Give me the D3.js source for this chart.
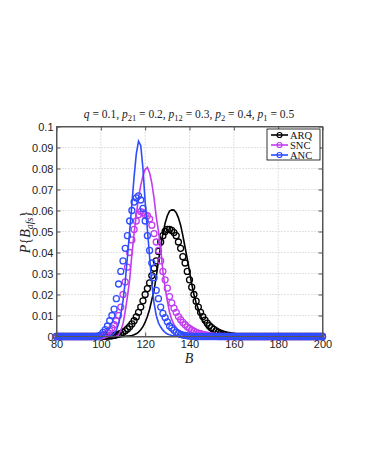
<!DOCTYPE html>
<html>
<head>
<meta charset="utf-8">
<script src="https://cdn.jsdelivr.net/npm/d3@7"></script>
<style>
  body { margin: 0; background: #fff; }
  text { font-family: "Liberation Sans", Arial, sans-serif; }
  .tex { font-family: "Liberation Serif", "DejaVu Serif", serif; }
</style>
</head>
<body>
<svg id="chart" width="366" height="473"></svg>
<script>
// B = 80..200, one value per integer B
var bValues = d3.range(80, 201);

// ARQ: analysis (line) and simulation (circles)
var arqLine = [
  0,0,0,0,0,0,0,0,0,0,
  0,0,0,0,0,0,0,0,0,0,
  0,0,0,0,0,0,0,0,0,0,
  0,0.0001,0.0002,0.0003,0.0005,0.0008,0.0013,0.0021,0.0032,0.0047,
  0.0068,0.0095,0.013,0.0175,0.022,0.0285,0.036,0.043,0.049,0.054,
  0.0575,0.0597,0.0603,0.0602,0.059,0.0565,0.053,0.048,0.0425,0.037,
  0.031,0.025,0.020,0.016,0.013,0.010,0.0075,0.0055,0.004,0.003,
  0.0022,0.0016,0.0011,0.0008,0.0005,0.0003,0.0002,0.0001,0,0,
  0,0,0,0,0,0,0,0,0,0,
  0,0,0,0,0,0,0,0,0,0,
  0,0,0,0,0,0,0,0,0,0,
  0,0,0,0,0,0,0,0,0,0,
  0
];
var arqSim = [
  0,0,0,0,0,0,0,0,0,0,
  0,0,0,0,0,0,0,0,0,0,
  0,0.0001,0.0001,0.0002,0.0002,0.0003,0.0005,0.0008,0.0011,0.0015,
  0.002,0.0027,0.0036,0.0047,0.006,0.0075,0.0093,0.0115,0.014,0.017,
  0.020,0.0228,0.0255,0.029,0.0325,0.036,0.0405,0.045,0.048,0.050,
  0.051,0.051,0.0505,0.0495,0.048,0.045,0.042,0.038,0.035,0.031,
  0.027,0.0235,0.020,0.0168,0.014,0.0115,0.0095,0.0078,0.0064,0.0052,
  0.0042,0.0034,0.0027,0.0021,0.0016,0.0012,0.0009,0.0007,0.0005,0.0003,
  0.0002,0.0001,0,0,0,0,0,0,0,0,
  0,0,0,0,0,0,0,0,0,0,
  0,0,0,0,0,0,0,0,0,0,
  0,0,0,0,0,0,0,0,0,0,
  0
];

// SNC
var sncLine = [
  0,0,0,0,0,0,0,0,0,0,
  0,0,0,0,0,0,0,0,0,0,
  0,0,0,0,0,0,0,0.0001,0.0007,0.003,
  0.006,0.012,0.019,0.027,0.039,0.049,0.058,0.066,0.072,0.0765,
  0.0795,0.0805,0.078,0.073,0.066,0.057,0.050,0.042,0.031,0.023,
  0.017,0.0115,0.008,0.0058,0.0042,0.0031,0.0023,0.0017,0.0012,0.0008,
  0.0005,0.0003,0.0002,0.0001,0,0,0,0,0,0,
  0,0,0,0,0,0,0,0,0,0,
  0,0,0,0,0,0,0,0,0,0,
  0,0,0,0,0,0,0,0,0,0,
  0,0,0,0,0,0,0,0,0,0,
  0,0,0,0,0,0,0,0,0,0,
  0
];
var sncSim = [
  0,0,0,0,0,0,0,0,0,0,
  0,0,0,0,0,0,0,0,0,0,
  0.0002,0.0005,0.001,0.0017,0.0027,0.004,0.0056,0.0075,0.010,0.014,
  0.020,0.026,0.033,0.040,0.046,0.051,0.055,0.058,0.0595,0.059,
  0.058,0.0575,0.056,0.053,0.049,0.045,0.041,0.036,0.031,0.027,
  0.023,0.019,0.016,0.0135,0.0115,0.0095,0.008,0.0067,0.0056,0.0046,
  0.0038,0.0031,0.0025,0.002,0.0016,0.0013,0.001,0.0008,0.0006,0.0004,
  0.0003,0.0002,0.0001,0,0,0,0,0,0,0,
  0,0,0,0,0,0,0,0,0,0,
  0,0,0,0,0,0,0,0,0,0,
  0,0,0,0,0,0,0,0,0,0,
  0,0,0,0,0,0,0,0,0,0,
  0
];

// ANC
var ancLine = [
  0,0,0,0,0,0,0,0,0,0,
  0,0,0,0,0,0,0,0,0,0,
  0,0,0,0,0.0003,0.0007,0.0015,0.003,0.006,0.0105,
  0.017,0.026,0.038,0.050,0.063,0.076,0.087,0.093,0.091,0.080,
  0.064,0.051,0.038,0.025,0.016,0.010,0.0065,0.0045,0.003,0.002,
  0.0012,0.0008,0.0005,0.0003,0.0002,0.0001,0,0,0,0,
  0,0,0,0,0,0,0,0,0,0,
  0,0,0,0,0,0,0,0,0,0,
  0,0,0,0,0,0,0,0,0,0,
  0,0,0,0,0,0,0,0,0,0,
  0,0,0,0,0,0,0,0,0,0,
  0,0,0,0,0,0,0,0,0,0,
  0
];
var ancSim = [
  0,0,0,0,0,0,0,0,0,0,
  0,0,0,0,0,0,0,0,0,0.0003,
  0.0008,0.002,0.0033,0.005,0.0075,0.010,0.013,0.018,0.025,0.031,
  0.036,0.042,0.048,0.055,0.060,0.064,0.066,0.067,0.065,0.061,
  0.055,0.048,0.041,0.035,0.028,0.022,0.018,0.014,0.011,0.009,
  0.007,0.005,0.004,0.003,0.002,0.0015,0.001,0.0007,0.0005,0.0003,
  0.0002,0.0001,0,0,0,0,0,0,0,0,
  0,0,0,0,0,0,0,0,0,0,
  0,0,0,0,0,0,0,0,0,0,
  0,0,0,0,0,0,0,0,0,0,
  0,0,0,0,0,0,0,0,0,0,
  0,0,0,0,0,0,0,0,0,0,
  0
];

var seriesNames = ['ARQ', 'SNC', 'ANC'];
var seriesColors = ['#000000', '#c23cf0', '#2f4cff'];
var xTicks = [80, 100, 120, 140, 160, 180, 200];
var yTicks = [0, 0.01, 0.02, 0.03, 0.04, 0.05, 0.06, 0.07, 0.08, 0.09, 0.1];

var svg = d3.select('#chart');
var plotLeft = 56.5, plotRight = 322.5, plotTop = 126.5, plotBottom = 336.5;

var x = d3.scaleLinear().domain([80, 200]).range([plotLeft, plotRight]);
var y = d3.scaleLinear().domain([0, 0.1]).range([plotBottom, plotTop]);

// grid
svg.append('g').selectAll('line').data(xTicks.slice(1, -1)).join('line')
  .attr('x1', function(d) { return x(d); }).attr('x2', function(d) { return x(d); })
  .attr('y1', plotTop).attr('y2', plotBottom)
  .attr('stroke', '#c4c4c4').attr('stroke-dasharray', '1,2');
svg.append('g').selectAll('line').data(yTicks.slice(1, -1)).join('line')
  .attr('y1', function(d) { return y(d); }).attr('y2', function(d) { return y(d); })
  .attr('x1', plotLeft).attr('x2', plotRight)
  .attr('stroke', '#c4c4c4').attr('stroke-dasharray', '1,2');

// axes, ticks inward
svg.append('g').attr('transform', 'translate(0,' + plotBottom + ')')
  .call(d3.axisBottom(x).tickValues(xTicks).tickSizeInner(-4).tickSizeOuter(0).tickPadding(4));
svg.append('g').attr('transform', 'translate(' + plotLeft + ',0)')
  .call(d3.axisLeft(y).tickValues(yTicks).tickSizeInner(-4).tickSizeOuter(0).tickPadding(3)
    .tickFormat(function(d) { return d === 0 ? '0' : String(+d.toFixed(2)); }));
// mirrored ticks top / right
svg.append('g').attr('transform', 'translate(0,' + plotTop + ')')
  .call(d3.axisTop(x).tickValues(xTicks).tickSizeInner(-4).tickSizeOuter(0).tickFormat(''));
svg.append('g').attr('transform', 'translate(' + plotRight + ',0)')
  .call(d3.axisRight(y).tickValues(yTicks).tickSizeInner(-4).tickSizeOuter(0).tickFormat(''));

svg.selectAll('.domain').attr('stroke', '#555');
svg.selectAll('.tick line').attr('stroke', '#555');
svg.selectAll('.tick text').attr('font-size', 11).attr('fill', '#222')
  .style('font-family', '"Liberation Sans", Arial, sans-serif');

// data
var allSeries = [
  { line: arqLine, sim: arqSim },
  { line: sncLine, sim: sncSim },
  { line: ancLine, sim: ancSim }
];
var line = d3.line().x(function(d) { return x(d.b); }).y(function(d) { return y(d.v); });

allSeries.forEach(function(s, k) {
  var lineData = bValues.map(function(b, i) { return { b: b, v: s.line[i] }; });
  var simData = bValues.map(function(b, i) { return { b: b, v: s.sim[i] }; });
  svg.append('path').datum(lineData)
    .attr('d', line).attr('fill', 'none')
    .attr('stroke', seriesColors[k]).attr('stroke-width', 1.6);
  svg.append('g').selectAll('circle').data(simData).join('circle')
    .attr('cx', function(d) { return x(d.b); })
    .attr('cy', function(d) { return y(d.v); })
    .attr('r', 3)
    .attr('fill', 'none')
    .attr('stroke', seriesColors[k]).attr('stroke-width', 1.3);
});

// frame on top
svg.append('rect').attr('x', plotLeft).attr('y', plotTop)
  .attr('width', plotRight - plotLeft).attr('height', plotBottom - plotTop)
  .attr('fill', 'none').attr('stroke', '#555');

// title
var title = svg.append('text').attr('class', 'tex')
  .attr('x', 189).attr('y', 118).attr('text-anchor', 'middle')
  .attr('font-size', 11.5).attr('fill', '#222');
var parts = [
  ['q', null, ' = 0.1, '], ['p', '21', ' = 0.2, '], ['p', '12', ' = 0.3, '],
  ['p', '2', ' = 0.4, '], ['p', '1', ' = 0.5']
];
parts.forEach(function(p) {
  title.append('tspan').attr('font-style', 'italic').text(p[0]);
  if (p[1]) {
    title.append('tspan').attr('dy', 2.5).attr('font-size', 8.5).text(p[1]);
    title.append('tspan').attr('dy', -2.5).text(p[2]);
  } else {
    title.append('tspan').text(p[2]);
  }
});

// axis labels
svg.append('text').attr('class', 'tex')
  .attr('x', 189).attr('y', 363).attr('text-anchor', 'middle')
  .attr('font-size', 14).attr('font-style', 'italic').attr('fill', '#222').text('B');

var yl = svg.append('text').attr('class', 'tex')
  .attr('transform', 'translate(30,232) rotate(-90)')
  .attr('text-anchor', 'middle').attr('font-size', 14).attr('fill', '#222');
yl.append('tspan').attr('font-style', 'italic').text('P');
yl.append('tspan').text('{');
yl.append('tspan').attr('font-style', 'italic').text('B');
yl.append('tspan').attr('dy', 2.5).attr('font-size', 10).attr('font-style', 'italic').text('afs');
yl.append('tspan').attr('dy', -2.5).text('}');

// legend
var lg = svg.append('g').attr('transform', 'translate(267,129)');
lg.append('rect').attr('width', 53).attr('height', 31)
  .attr('fill', '#fff').attr('stroke', '#000').attr('stroke-width', 0.8);
seriesNames.forEach(function(name, k) {
  var yy = 6 + k * 10;
  lg.append('line').attr('x1', 4).attr('x2', 21).attr('y1', yy).attr('y2', yy)
    .attr('stroke', seriesColors[k]).attr('stroke-width', 1.6);
  lg.append('circle').attr('cx', 12.5).attr('cy', yy).attr('r', 2.5)
    .attr('fill', 'none').attr('stroke', seriesColors[k]).attr('stroke-width', 1.2);
  lg.append('text').attr('class', 'tex').attr('x', 23).attr('y', yy + 3.5)
    .attr('font-size', 10.5).attr('fill', '#111').text(name);
});
</script>
</body>
</html>
